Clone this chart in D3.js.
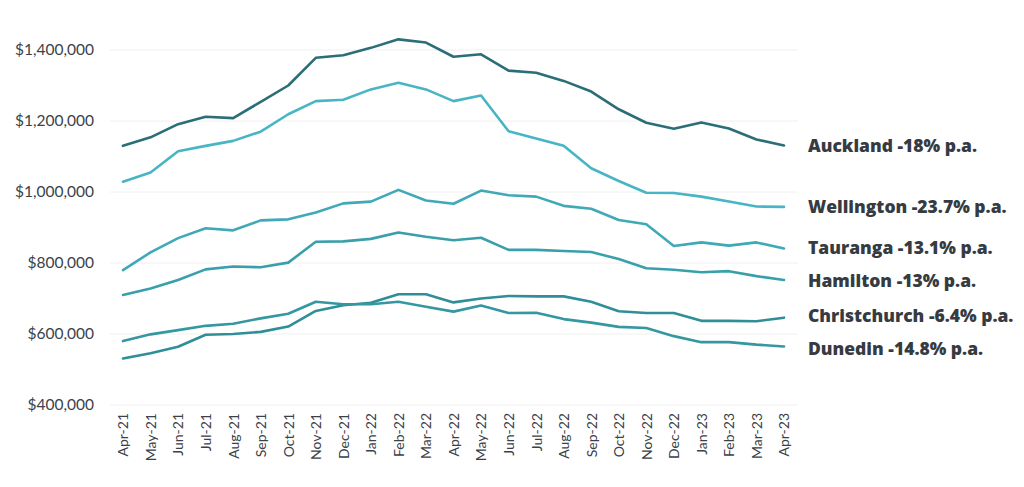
<!DOCTYPE html>
<html>
<head>
<meta charset="utf-8">
<script src="https://cdn.jsdelivr.net/npm/d3@7"></script>
<style>
  body { margin: 0; background: #fff; }
  .tick text { font-family: Lato, "Open Sans", sans-serif; fill: #3b4148; }
  .label { font-family: "Open Sans", Lato, sans-serif; font-weight: 800; fill: #363b42; }
</style>
</head>
<body>
<div id="chart"></div>
<script>
const width = 1024;
const height = 487;

// months on the x axis
const months = ["Apr-21", "May-21", "Jun-21", "Jul-21", "Aug-21", "Sep-21", "Oct-21", "Nov-21", "Dec-21",
  "Jan-22", "Feb-22", "Mar-22", "Apr-22", "May-22", "Jun-22", "Jul-22", "Aug-22", "Sep-22", "Oct-22",
  "Nov-22", "Dec-22", "Jan-23", "Feb-23", "Mar-23", "Apr-23"];

// average values, in $000
const auckland = [1130, 1154, 1191, 1212, 1208, 1254, 1300, 1378, 1385, 1406, 1430, 1421, 1381, 1388,
  1342, 1336, 1313, 1283, 1233, 1195, 1178, 1196, 1179, 1148, 1131];
const wellington = [1029, 1055, 1115, 1130, 1144, 1170, 1219, 1256, 1260, 1289, 1308, 1289, 1256, 1272,
  1171, 1151, 1130, 1067, 1031, 998, 997, 987, 973, 959, 958];
const tauranga = [780, 830, 870, 898, 892, 920, 923, 942, 968, 973, 1006, 976, 967, 1004,
  991, 987, 961, 953, 921, 909, 848, 858, 849, 858, 841];
const hamilton = [710, 728, 752, 782, 790, 788, 801, 860, 861, 868, 886, 874, 864, 871,
  837, 837, 834, 831, 811, 785, 781, 774, 777, 763, 752];
const christchurch = [531, 546, 564, 598, 600, 606, 621, 665, 681, 688, 712, 712, 689, 700,
  707, 706, 706, 691, 664, 659, 659, 637, 637, 636, 646];
const dunedin = [580, 599, 611, 623, 629, 644, 657, 691, 684, 684, 691, 677, 663, 680,
  659, 660, 642, 632, 620, 617, 594, 577, 577, 570, 565];

const cities = ["Auckland", "Wellington", "Tauranga", "Hamilton", "Christchurch", "Dunedin"];
const changes = ["-18%", "-23.7%", "-13.1%", "-13%", "-6.4%", "-14.8%"];
const series = [auckland, wellington, tauranga, hamilton, christchurch, dunedin];
const colors = ["#2b6e78", "#47b5c4", "#3fa9b7", "#39a0ab", "#2f8e98", "#3597a1"];

const yTicks = [400, 600, 800, 1000, 1200, 1400];

const margin = { top: 50, right: 226, bottom: 82, left: 110 };

var svg = d3.select("#chart").append("svg")
  .attr("width", width)
  .attr("height", height);

var x = d3.scalePoint()
  .domain(months)
  .range([123, 784]);

var y = d3.scaleLinear()
  .domain([400, 1400])
  .range([height - margin.bottom, margin.top]);

// gridlines
svg.append("g")
  .selectAll("line").data(yTicks).enter().append("line")
  .attr("x1", margin.left)
  .attr("x2", width - margin.right)
  .attr("y1", (d) => y(d))
  .attr("y2", (d) => y(d))
  .style("stroke", "#f0f0f0")
  .style("stroke-width", 1);

// y axis
var yAxis = svg.append("g")
  .attr("transform", "translate(" + 97 + ",0)")
  .call(d3.axisLeft(y).tickValues(yTicks).tickSize(0)
    .tickFormat((d) => "$" + d3.format(",")(d * 1000)));
yAxis.select(".domain").remove();
yAxis.selectAll("text").style("font-size", "15.5px");

// x axis
var xAxis = svg.append("g")
  .attr("transform", "translate(0," + (height - margin.bottom) + ")")
  .call(d3.axisBottom(x).tickSize(0));
xAxis.select(".domain").remove();
xAxis.selectAll("text")
  .style("font-size", "14px")
  .style("text-anchor", "end")
  .attr("transform", "rotate(-90)")
  .attr("x", -8)
  .attr("y", 0)
  .attr("dy", "0.35em");

var line = d3.line()
  .x((d, i) => x(months[i]))
  .y((d) => y(d));

svg.append("g")
  .selectAll("path").data(series).enter().append("path")
  .attr("d", (d) => line(d))
  .style("fill", "none")
  .style("stroke", (d, i) => colors[i])
  .style("stroke-width", 2.6)
  .style("stroke-linejoin", "round")
  .style("stroke-linecap", "round");

// end labels, nudged apart where they would crowd
var labelY = series.map((d) => y(d[d.length - 1]));
for (var k = 0; k < 20; k++) {
  for (var i = 1; i < labelY.length; i++) {
    var gap = labelY[i] - labelY[i - 1];
    if (gap < 33) {
      labelY[i - 1] -= (33 - gap) / 2;
      labelY[i] += (33 - gap) / 2;
    }
  }
}

svg.append("g")
  .selectAll("text").data(cities).enter().append("text")
  .attr("class", "label")
  .attr("x", 808)
  .attr("y", (d, i) => labelY[i])
  .attr("dy", "0.35em")
  .style("font-size", "17.5px")
  .text((d, i) => d + " " + changes[i] + " p.a.");
</script>
</body>
</html>
